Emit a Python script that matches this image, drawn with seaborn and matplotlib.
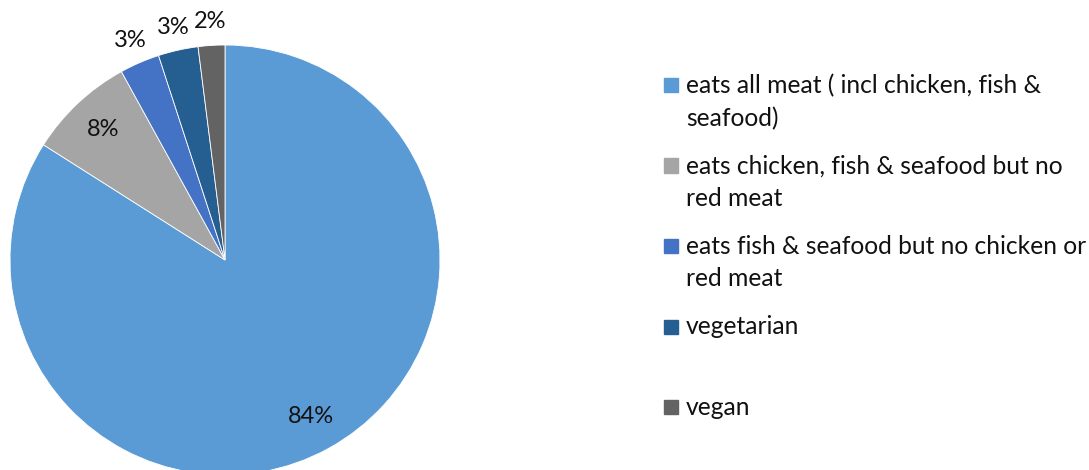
import seaborn as sns
import matplotlib.pyplot as plt
import numpy as np

categories = [
    "eats all meat ( incl chicken, fish &\nseafood)",
    "eats chicken, fish & seafood but no\nred meat",
    "eats fish & seafood but no chicken or\nred meat",
    "vegetarian",
    "vegan",
]
shares = [84, 8, 3, 3, 2]
colors = ["#5B9BD5", "#A5A5A5", "#4472C4", "#255E91", "#636363"]

sns.set_theme(style="white")
plt.rcParams['font.family'] = ['Lato', 'DejaVu Sans']

fig = plt.figure(figsize=(10.89, 4.70), dpi=100)
W, H = 1089, 470
cx, cy, r = 225, 260, 215
ax = fig.add_axes([(cx - r) / W, (H - cy - r) / H, 2 * r / W, 2 * r / H])

wedges, texts, autotexts = ax.pie(
    shares, colors=colors, startangle=90, counterclock=False,
    autopct='%1.0f%%', pctdistance=0.83,
    wedgeprops=dict(edgecolor='white', linewidth=0.6),
    textprops=dict(fontsize=17, color='#111111'),
)
# small slices get their labels pushed outside the pie
for w, t, v in zip(wedges, autotexts, shares):
    if v < 5:
        ang = np.deg2rad((w.theta1 + w.theta2) / 2)
        t.set_position((1.11 * np.cos(ang), 1.11 * np.sin(ang)))
ax.set_xlim(-1, 1)
ax.set_ylim(-1, 1)
ax.set_aspect('equal')
ax.axis('off')

# legend drawn as boxes + text in equal slots, like the Excel original
y0 = 85
slot = 80.5
for i, (lab, col) in enumerate(zip(categories, colors)):
    y = y0 + i * slot
    fig.patches.append(plt.Rectangle((664 / W, 1 - (y + 7) / H), 14 / W, 14 / H,
                                     transform=fig.transFigure, color=col))
    fig.text(686 / W, 1 - (y - 11) / H, lab, fontsize=17.7, color='#111111',
             va='top', ha='left', linespacing=1.5)

fig.savefig('out.png', dpi=100)
